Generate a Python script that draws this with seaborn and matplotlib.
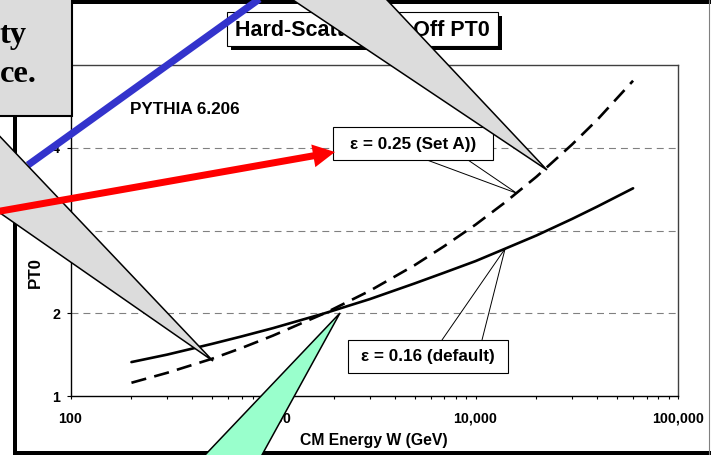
import matplotlib
matplotlib.use("Agg")
import matplotlib.pyplot as plt
import matplotlib.patches as mpatches
import matplotlib.transforms as mtransforms
from matplotlib.lines import Line2D
from matplotlib.ticker import FixedLocator, LogLocator, NullFormatter
import pandas as pd
import seaborn as sns

# Centre-of-mass energy (GeV) and the cut-off PT0 (GeV/c) for the two tunes
energy_gev = [200, 300, 500, 700, 1000, 1800, 3000, 5000, 7000, 10000, 14000, 20000, 30000, 40000, 60000]
pt0_default = [1.41, 1.50, 1.63, 1.72, 1.82, 2.00, 2.17, 2.36, 2.49, 2.63, 2.78, 2.94, 3.14, 3.29, 3.51]
pt0_set_a = [1.16, 1.28, 1.45, 1.58, 1.73, 2.00, 2.27, 2.58, 2.81, 3.07, 3.34, 3.65, 4.04, 4.34, 4.81]
curve_names = ["ε = 0.16 (default)", "ε = 0.25 (Set A))"]

x_tick_values = [100, 1000, 10000, 100000]
x_tick_labels = ["100", "1,000", "10,000", "100,000"]
y_tick_values = [1, 2, 3, 4, 5]

# points on the curves that the label leaders point to
set_a_anchor = (16000, 3.45)
default_anchor = (14000, 2.78)

sns.set_theme(style="white")
plt.rcParams["font.family"] = ["Liberation Sans", "DejaVu Sans"]
plt.rcParams["font.weight"] = "bold"
plt.rcParams["lines.scale_dashes"] = False

df = pd.DataFrame({
    "W": energy_gev * 2,
    "PT0": pt0_default + pt0_set_a,
    "curve": [curve_names[0]] * len(energy_gev) + [curve_names[1]] * len(energy_gev),
})

FW, FH = 711, 455
fig = plt.figure(figsize=(FW / 100, FH / 100), dpi=100)
fig.patch.set_facecolor("white")
# pixel coordinates measured from the top-left corner of the slide
PX = mtransforms.Affine2D().scale(1 / FW, -1 / FH).translate(0, 1) + fig.transFigure

ax_left, ax_right, ax_top, ax_bottom = 70.5, 678, 65, 396
ax = fig.add_axes([ax_left / FW, (FH - ax_bottom) / FH,
                   (ax_right - ax_left) / FW, (ax_bottom - ax_top) / FH])
ax.set_facecolor("white")

for v in y_tick_values[1:-1]:
    ax.axhline(v, color="#808080", lw=0.8, dashes=(5, 3.6), zorder=1)

sns.lineplot(data=df, x="W", y="PT0", style="curve", style_order=curve_names,
             dashes={curve_names[0]: "", curve_names[1]: (11, 6)},
             color="black", linewidth=1.9, legend=False, ax=ax, zorder=3)

ax.set_xscale("log")
ax.set_xlim(x_tick_values[0], x_tick_values[-1])
ax.set_ylim(y_tick_values[0], y_tick_values[-1])
ax.xaxis.set_major_locator(FixedLocator(x_tick_values))
ax.set_xticklabels(x_tick_labels)
ax.xaxis.set_minor_locator(LogLocator(base=10, subs=range(2, 10)))
ax.xaxis.set_minor_formatter(NullFormatter())
ax.set_yticks(y_tick_values)
ax.set_yticklabels([str(v) for v in y_tick_values])

ax.tick_params(axis="x", which="both", bottom=True, direction="out", length=2.3,
               width=0.8, color="black", pad=9, labelsize=10.3, labelcolor="black")
ax.tick_params(axis="y", which="both", left=True, direction="out", length=2.9,
               width=0.8, color="black", pad=4.5, labelsize=10.3, labelcolor="black")
for lab in ax.get_xticklabels() + ax.get_yticklabels():
    lab.set_fontweight("bold")

for side in ["left", "bottom"]:
    ax.spines[side].set_color("black")
    ax.spines[side].set_linewidth(1.0)
for side in ["top", "right"]:
    ax.spines[side].set_color("#404040")
    ax.spines[side].set_linewidth(1.0)

ax.set_xlabel("CM Energy W (GeV)", fontsize=11.3, fontweight="bold", color="black", va="center")
ax.xaxis.set_label_coords(0.5, (ax_bottom - 440) / (ax_bottom - ax_top))
ax.set_ylabel("PT0", fontsize=12.2, fontweight="bold", color="black", va="center", ha="center")
ax.yaxis.set_label_coords((35 - ax_left) / (ax_right - ax_left),
                          (ax_bottom - 272) / (ax_bottom - ax_top))


def data_to_px(x, y):
    disp = ax.transData.transform((x, y))
    return PX.inverted().transform(disp)


def rect(x0, y0, x1, y1, z, fc, ec="none", lw=0.0):
    fig.add_artist(mpatches.Rectangle((x0, y0), x1 - x0, y1 - y0, transform=PX,
                                      facecolor=fc, edgecolor=ec, linewidth=lw, zorder=z))


def poly(points, z, fc, ec="black", lw=1.0):
    fig.add_artist(mpatches.Polygon(points, closed=True, transform=PX, facecolor=fc,
                                    edgecolor=ec, linewidth=lw, zorder=z))


def line(xs, ys, z, color="black", lw=0.7):
    fig.add_artist(Line2D(xs, ys, transform=PX, color=color, linewidth=lw, zorder=z))


# slide frame
rect(14, 0, FW, 4, 1, "black")
rect(13, 0, 17, FH, 1, "black")
rect(13, 451, FW, FH, 1, "black")
line([709, 709], [0, FH], 1, color="#808080", lw=0.8)

# chart title with drop shadow
rect(231, 16, 502, 50, 2, "black")
rect(227, 12, 498, 46, 3, "white", "black", 0.8)
fig.text(362.5, 30, "Hard-Scatter Cut-Off PT0", transform=PX, ha="center", va="center",
         fontsize=15.5, fontweight="bold", color="black", zorder=4)

fig.text(185, 110, "PYTHIA 6.206", transform=PX, ha="center", va="center",
         fontsize=12.3, fontweight="bold", color="black", zorder=4)

# curve labels with leader lines
tip_a = data_to_px(*set_a_anchor)
line([427, tip_a[0], 468], [160, tip_a[1], 160], 4)
rect(333, 127, 493, 160, 4, "white", "black", 0.8)
fig.text(413, 144, curve_names[1], transform=PX, ha="center", va="center",
         fontsize=12.3, fontweight="bold", color="black", zorder=5)

tip_d = data_to_px(*default_anchor)
line([442, tip_d[0], 482], [340, tip_d[1], 340], 4)
rect(348, 340, 508, 373, 4, "white", "black", 0.8)
fig.text(428, 357, curve_names[0], transform=PX, ha="center", va="center",
         fontsize=12.3, fontweight="bold", color="black", zorder=5)

# blue connector
fig.add_artist(Line2D([265, 28], [-5, 165], transform=PX, color="#3333CC",
                      linewidth=5.2, solid_capstyle="butt", zorder=6))

# left grey callout pointer
poly([(-10, 126), (-10, 206), (213, 361)], 7, "#DCDCDC", lw=1.1)

# red arrow
fig.add_artist(mpatches.FancyArrow(-5, 212, 340, -60, width=7, head_width=23, head_length=22,
                                   length_includes_head=True, transform=PX,
                                   facecolor="#FF0000", edgecolor="none", zorder=8))

# top-left grey text box
rect(-5, -5, 72, 116, 9, "#DCDCDC", "black", 1.5)
fig.text(27, 43, "ty", transform=PX, ha="right", va="baseline", fontsize=23.4,
         fontweight="bold", family=["Liberation Serif", "DejaVu Serif"], color="black", zorder=10)
fig.text(37, 82, "ce.", transform=PX, ha="right", va="baseline", fontsize=23.4,
         fontweight="bold", family=["Liberation Serif", "DejaVu Serif"], color="black", zorder=10)

# top-right grey callout pointer
poly([(285.5, -5), (382.3, -5), (547, 170)], 11, "#DCDCDC", lw=1.1)

# green callout pointer
poly([(200.3, 460), (259.2, 460), (340, 313)], 12, "#99FFCC", lw=1.1)

fig.savefig("out.png", dpi=100, facecolor="white")
